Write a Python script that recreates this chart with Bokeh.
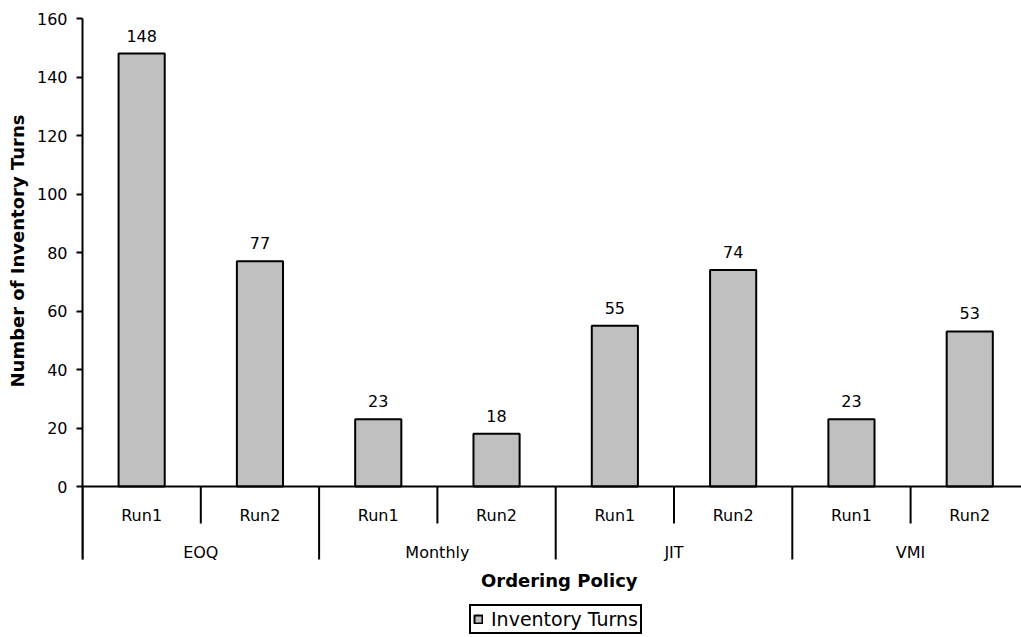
from bokeh.core.properties import value
from bokeh.embed import file_html
from bokeh.models import FixedTicker, Label, Range1d, Title
from bokeh.plotting import figure
from bokeh.resources import INLINE

# Inventory turns per ordering policy and simulation run
policies = ["EOQ", "Monthly", "JIT", "VMI"]
runs = ["Run1", "Run2"]
turns = [148, 77, 23, 18, 55, 74, 23, 53]
y_ticks = [0, 20, 40, 60, 80, 100, 120, 140, 160]

FONT = "DejaVu Sans"
BAR_FILL = "#C0C0C0"

# geometry (pixels)
W, H = 1021, 637
LEFT, TOP = 82, 18
SLOT_PX = 118.3                 # width of one run slot
PX_PER_UNIT = 468 / 160.0        # vertical scale

frame_w = W - LEFT
frame_h = H - TOP
x_end = frame_w / SLOT_PX
y_start = 160 - frame_h / PX_PER_UNIT


def down(px):
    """Convert a pixel distance below the zero line to data units."""
    return -px / PX_PER_UNIT


p = figure(
    width=W, height=H,
    x_range=Range1d(0, x_end), y_range=Range1d(y_start, 160),
    x_axis_location=None,
    min_border_left=LEFT, min_border_right=0,
    min_border_top=TOP, min_border_bottom=0,
    output_backend="svg", toolbar_location=None,
)
p.outline_line_color = None
p.grid.grid_line_color = None
p.background_fill_color = "white"
p.border_fill_color = "white"

# value axis
ya = p.yaxis[0]
ya.ticker = FixedTicker(ticks=y_ticks)
ya.bounds = (down(73), 160)
ya.axis_line_width = 2
ya.axis_line_color = "black"
ya.major_tick_line_width = 2
ya.major_tick_out = 6
ya.major_tick_in = 0
ya.minor_tick_line_color = None
ya.major_label_text_font = FONT
ya.major_label_text_font_size = "16px"
ya.major_label_text_color = "black"
ya.major_label_standoff = 9
# a blank spacer label keeps the title clear of the tick labels
ya.axis_label = " "
ya.axis_label_text_font_size = "2px"
ya.axis_label_standoff = 1

# vertical axis title, anchored from the bottom of the left panel
ytitle = Title(text="Number of Inventory Turns", align="left", offset=250,
               text_font=FONT, text_font_size="18px", text_font_style="bold",
               text_color="black", standoff=0)
p.add_layout(ytitle, "left")

# bars
n = len(turns)
xs = [i + 0.5 for i in range(n)]
bars = p.vbar(x=xs, top=turns, bottom=0, width=0.39,
              fill_color=BAR_FILL, line_color="black", line_width=2,
              legend_label="Inventory Turns")

# value labels above bars
p.text(x=xs, y=turns, text=[str(v) for v in turns],
       text_align="center", text_baseline="bottom", y_offset=-12,
       text_font=value(FONT), text_font_size="16px", text_color="black")

# category axis line
p.segment(x0=[0], y0=[0], x1=[x_end], y1=[0], line_color="black", line_width=2)

# separators between runs and between policies
run_sep = [2 * g + 1 for g in range(len(policies))]
grp_sep = [2 * g for g in range(len(policies) + 1)]
p.segment(x0=run_sep, y0=[0] * len(run_sep), x1=run_sep, y1=[down(37)] * len(run_sep),
          line_color="black", line_width=2)
p.segment(x0=grp_sep, y0=[0] * len(grp_sep), x1=grp_sep, y1=[down(73)] * len(grp_sep),
          line_color="black", line_width=2)

# run labels and policy labels
run_labels = [runs[i % 2] for i in range(n)]
p.text(x=xs, y=[down(29)] * n, text=run_labels,
       text_align="center", text_baseline="middle",
       text_font=value(FONT), text_font_size="16px", text_color="black")
gx = [2 * g + 1 for g in range(len(policies))]
p.text(x=gx, y=[down(66)] * len(policies), text=policies,
       text_align="center", text_baseline="middle",
       text_font=value(FONT), text_font_size="16px", text_color="black")

# horizontal axis title
p.add_layout(Label(x=4.03, y=down(94), text="Ordering Policy",
                   text_align="center", text_baseline="middle",
                   text_font=FONT, text_font_size="18px",
                   text_font_style="bold", text_color="black"))

# legend
lg = p.legend[0]
lg.location = (387, 3)
lg.orientation = "horizontal"
lg.border_line_color = "black"
lg.border_line_alpha = 1
lg.border_line_width = 2
lg.background_fill_color = "white"
lg.background_fill_alpha = 1
lg.padding = 2
lg.margin = 0
lg.spacing = 0
lg.glyph_width = 10
lg.glyph_height = 10
lg.label_standoff = 8
lg.label_height = 14
lg.label_text_font = FONT
lg.label_text_font_size = "19px"
lg.label_text_color = "black"

open("out.html", "w").write(file_html(p, INLINE))
